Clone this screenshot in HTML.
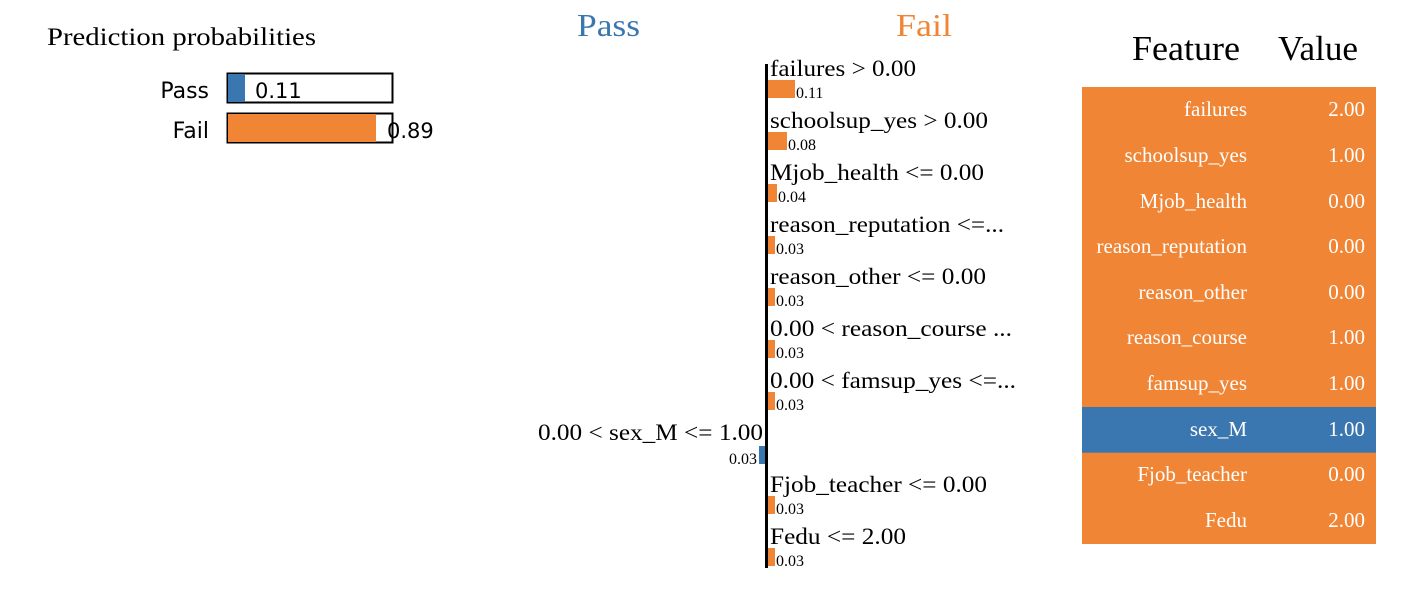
<!DOCTYPE html>
<html><head><meta charset="utf-8"><style>
html,body{margin:0;padding:0;background:#fff;width:1428px;height:616px;overflow:hidden}
svg{display:block}
.s{font-family:"Liberation Serif",serif}
.a{font-family:"DejaVu Sans","Liberation Sans",sans-serif}
</style></head><body>
<svg width="1428" height="616" xmlns="http://www.w3.org/2000/svg">
<text x="47" y="45" class="s" font-size="25" textLength="269" lengthAdjust="spacingAndGlyphs">Prediction probabilities</text>
<text x="209" y="98" class="a" font-size="22" text-anchor="end">Pass</text>
<rect x="227.5" y="73.5" width="165" height="29" fill="#fff" stroke="#000" stroke-width="2"/>
<rect x="228" y="74" width="17" height="28" fill="#3a76af"/>
<text x="255" y="98" class="a" font-size="21">0.11</text>
<text x="209" y="138" class="a" font-size="22" text-anchor="end">Fail</text>
<rect x="227.5" y="113.5" width="165" height="29" fill="#fff" stroke="#000" stroke-width="2"/>
<rect x="228" y="114" width="148" height="28" fill="#ef8535"/>
<text x="387" y="138" class="a" font-size="21">0.89</text>

<text x="577" y="36" class="s" font-size="32" fill="#3a76af" textLength="63" lengthAdjust="spacingAndGlyphs">Pass</text>
<text x="896" y="36" class="s" font-size="32" fill="#ef8535" textLength="56" lengthAdjust="spacingAndGlyphs">Fail</text>
<rect x="765" y="64" width="3" height="504" fill="#000"/>
<g class="s" font-size="23" lengthAdjust="spacingAndGlyphs">
<text x="770" y="76" textLength="146" lengthAdjust="spacingAndGlyphs">failures &gt; 0.00</text>
<text x="770" y="128" textLength="218" lengthAdjust="spacingAndGlyphs">schoolsup_yes &gt; 0.00</text>
<text x="770" y="180" textLength="214" lengthAdjust="spacingAndGlyphs">Mjob_health &lt;= 0.00</text>
<text x="770" y="232" textLength="234" lengthAdjust="spacingAndGlyphs">reason_reputation &lt;=...</text>
<text x="770" y="284" textLength="216" lengthAdjust="spacingAndGlyphs">reason_other &lt;= 0.00</text>
<text x="770" y="336" textLength="242" lengthAdjust="spacingAndGlyphs">0.00 &lt; reason_course ...</text>
<text x="770" y="388" textLength="246" lengthAdjust="spacingAndGlyphs">0.00 &lt; famsup_yes &lt;=...</text>
<text x="538" y="440" textLength="225" lengthAdjust="spacingAndGlyphs">0.00 &lt; sex_M &lt;= 1.00</text>
<text x="770" y="492" textLength="217" lengthAdjust="spacingAndGlyphs">Fjob_teacher &lt;= 0.00</text>
<text x="770" y="544" textLength="136" lengthAdjust="spacingAndGlyphs">Fedu &lt;= 2.00</text>
</g>
<g fill="#ef8535">
<rect x="768" y="80" width="27" height="18"/>
<rect x="768" y="132" width="19" height="18"/>
<rect x="768" y="184" width="9" height="18"/>
<rect x="768" y="236" width="7" height="18"/>
<rect x="768" y="288" width="7" height="18"/>
<rect x="768" y="340" width="7" height="18"/>
<rect x="768" y="392" width="7" height="18"/>
<rect x="768" y="496" width="7" height="18"/>
<rect x="768" y="548" width="7" height="18"/>
</g>
<rect x="759" y="446" width="6" height="18" fill="#3a76af"/>
<g class="s" font-size="16">
<text x="796" y="98">0.11</text>
<text x="788" y="150">0.08</text>
<text x="778" y="202">0.04</text>
<text x="776" y="254">0.03</text>
<text x="776" y="306">0.03</text>
<text x="776" y="358">0.03</text>
<text x="776" y="410">0.03</text>
<text x="757" y="464" text-anchor="end">0.03</text>
<text x="776" y="514">0.03</text>
<text x="776" y="566">0.03</text>
</g>

<text x="1132" y="60" class="s" font-size="35" textLength="108" lengthAdjust="spacingAndGlyphs">Feature</text>
<text x="1278" y="60" class="s" font-size="35" textLength="80" lengthAdjust="spacingAndGlyphs">Value</text>
<rect x="1082" y="87" width="294" height="457" fill="#ef8535"/>
<rect x="1082" y="407" width="294" height="45.7" fill="#3a76af"/>
<g class="s" font-size="21" fill="#fff" text-anchor="end">
<text x="1247" y="116">failures</text><text x="1365" y="116">2.00</text>
<text x="1247" y="162">schoolsup_yes</text><text x="1365" y="162">1.00</text>
<text x="1247" y="208">Mjob_health</text><text x="1365" y="208">0.00</text>
<text x="1247" y="253">reason_reputation</text><text x="1365" y="253">0.00</text>
<text x="1247" y="299">reason_other</text><text x="1365" y="299">0.00</text>
<text x="1247" y="344">reason_course</text><text x="1365" y="344">1.00</text>
<text x="1247" y="390">famsup_yes</text><text x="1365" y="390">1.00</text>
<text x="1247" y="436">sex_M</text><text x="1365" y="436">1.00</text>
<text x="1247" y="481">Fjob_teacher</text><text x="1365" y="481">0.00</text>
<text x="1247" y="527">Fedu</text><text x="1365" y="527">2.00</text>
</g>
</svg>
</body></html>
